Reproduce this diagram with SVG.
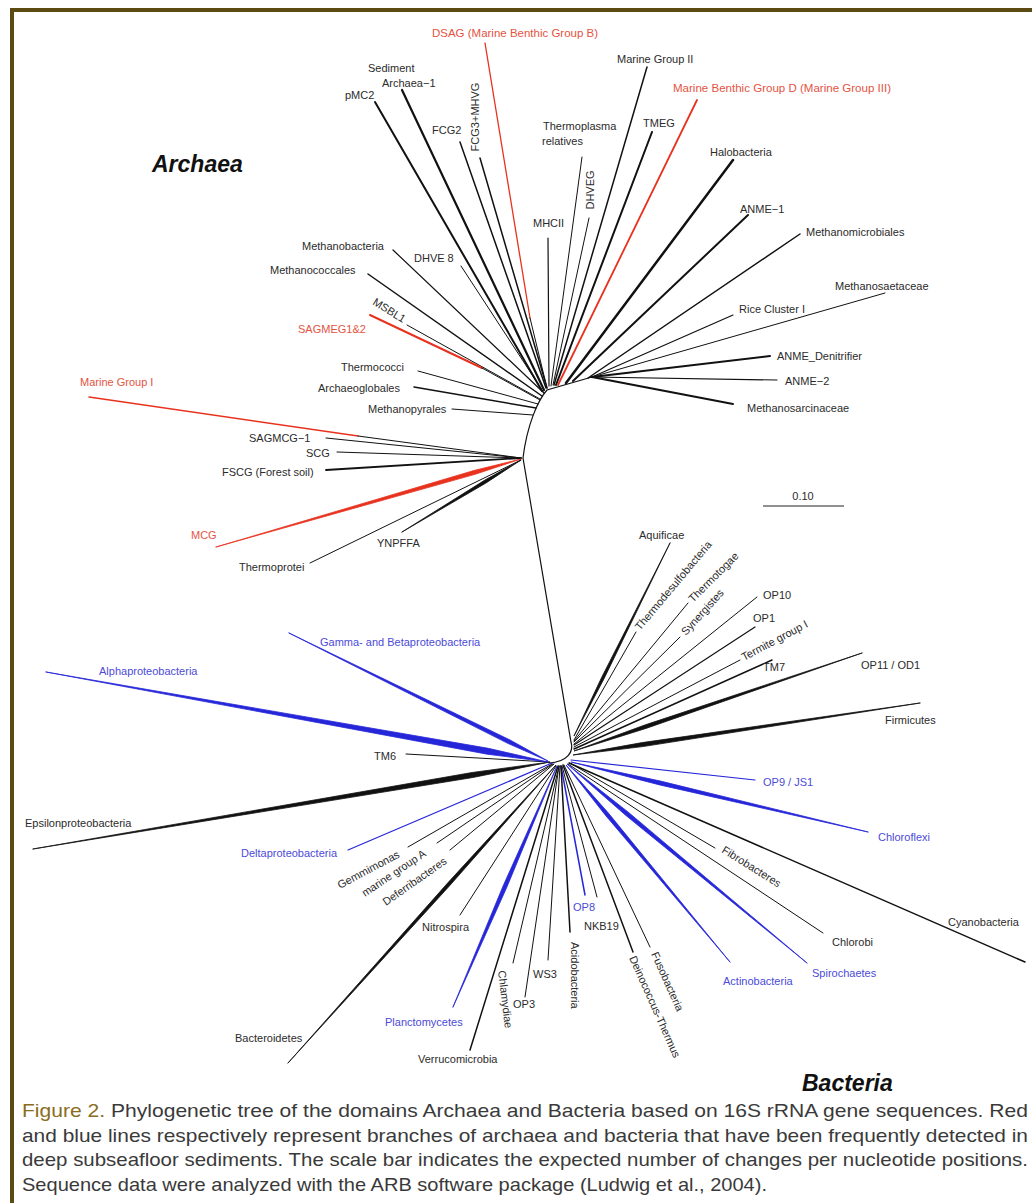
<svg xmlns="http://www.w3.org/2000/svg" width="1032" height="1203" viewBox="0 0 1032 1203">
<style>
.t{font-family:"Liberation Sans",Arial,sans-serif;font-size:11px;fill:#2b2b2b}
.r{fill:#e5533f}
.bl{fill:#4b4bd8}
.dom{font-family:"Liberation Sans",Arial,sans-serif;font-weight:bold;font-style:italic;font-size:23px;fill:#111}
.cap{font-family:"Liberation Sans",Arial,sans-serif;font-size:19px;fill:#3a3a3a}
.fig{fill:#8a6d1c}
.k{stroke:#111;fill:none}
.rk{stroke:#e8321e;fill:none}
.bk{stroke:#2626d9;fill:none}
.kw{fill:#111;stroke:#111;stroke-width:.8;stroke-linejoin:round}
.rw{fill:#e8321e;stroke:#e8321e;stroke-width:.8;stroke-linejoin:round}
.bw{fill:#2626d9;stroke:#2626d9;stroke-width:.8;stroke-linejoin:round}
</style>
<rect width="1032" height="1203" fill="#fff"/>
<g id="frame" stroke="#5b4a12" stroke-width="4" fill="none">
<line x1="12" y1="10" x2="1032" y2="10"/>
<line x1="12" y1="8" x2="12" y2="1203"/>
</g>
<g id="connectors" stroke-linecap="round">
<path class="k" stroke-width="1.2" d="M592,377 L547,390 C538,400 527,425 523,458 L571,742 C574,752 567,762 549,763"/>
<line class="rk" stroke-width="1.3" x1="485" y1="43" x2="530" y2="318"/>
<line class="k" stroke-width="1" x1="530" y1="318" x2="547" y2="388"/>
<line class="k" stroke-width="2.2" x1="402" y1="90" x2="544" y2="390"/>
<line class="k" stroke-width="2" x1="375" y1="102" x2="542" y2="391"/>
<line class="k" stroke-width="1.5" x1="460" y1="142" x2="546" y2="388"/>
<line class="k" stroke-width="1.5" x1="480" y1="158" x2="547" y2="388"/>
<line class="k" stroke-width="1.2" x1="548" y1="238" x2="549" y2="386"/>
<line class="k" stroke-width="1" x1="582" y1="157" x2="551" y2="386"/>
<line class="k" stroke-width="1" x1="589" y1="218" x2="553" y2="385"/>
<line class="k" stroke-width="1.5" x1="647" y1="67" x2="554" y2="385"/>
<line class="k" stroke-width="2" x1="652" y1="132" x2="556" y2="385"/>
<line class="rk" stroke-width="1.8" x1="697" y1="100" x2="558" y2="385"/>
<line class="k" stroke-width="2.5" x1="733" y1="160" x2="566" y2="383"/>
<line class="k" stroke-width="2" x1="748" y1="215" x2="573" y2="381"/>
<line class="k" stroke-width="1.5" x1="800" y1="234" x2="588" y2="378"/>
<line class="k" stroke-width="1" x1="885" y1="293" x2="592" y2="377"/>
<line class="k" stroke-width="1.2" x1="733" y1="315" x2="592" y2="377"/>
<line class="k" stroke-width="2" x1="770" y1="356" x2="592" y2="377"/>
<line class="k" stroke-width="1.2" x1="777" y1="380" x2="592" y2="377"/>
<line class="k" stroke-width="2" x1="733" y1="404" x2="592" y2="377"/>
<line class="k" stroke-width="1.2" x1="393" y1="250" x2="544" y2="393"/>
<line class="k" stroke-width="1" x1="461" y1="266" x2="544" y2="393"/>
<line class="k" stroke-width="1.5" x1="368" y1="274" x2="542" y2="396"/>
<line class="k" stroke-width="1" x1="407" y1="325" x2="540" y2="399"/>
<line class="rk" stroke-width="2" x1="370" y1="315" x2="482" y2="368"/>
<line class="k" stroke-width="1" x1="482" y1="368" x2="540" y2="400"/>
<line class="k" stroke-width="1" x1="418" y1="371" x2="538" y2="404"/>
<line class="k" stroke-width="1.5" x1="414" y1="387" x2="536" y2="408"/>
<line class="k" stroke-width="1" x1="452" y1="409" x2="533" y2="415"/>
<line class="rk" stroke-width="1.5" x1="89" y1="397" x2="358" y2="436"/>
<line class="k" stroke-width="1" x1="358" y1="436" x2="521" y2="458"/>
<line class="k" stroke-width="1" x1="326" y1="438" x2="521" y2="458"/>
<line class="k" stroke-width="1" x1="337" y1="452" x2="521" y2="458"/>
<line class="k" stroke-width="1.8" x1="326" y1="470" x2="521" y2="458"/>
<polygon class="rw" points="216,547 474.7,470.3 521,459 475.9,474.1"/>
<line class="k" stroke-width="1" x1="310" y1="563" x2="521" y2="460"/>
<polygon class="kw" points="402,532 484.5,480.3 521,460 486.1,482.9"/>
<polygon class="kw" points="670,543 601.6,677.5 574,736 604,678.7"/>
<line class="k" stroke-width="1" x1="636" y1="632" x2="574" y2="740"/>
<line class="k" stroke-width="1" x1="688" y1="603" x2="574" y2="741"/>
<line class="k" stroke-width="1" x1="680" y1="637" x2="574" y2="742"/>
<line class="k" stroke-width="1" x1="757" y1="597" x2="574" y2="744"/>
<line class="k" stroke-width="1.2" x1="755" y1="627" x2="574" y2="745"/>
<line class="k" stroke-width="1" x1="740" y1="660" x2="574" y2="747"/>
<line class="k" stroke-width="1.5" x1="772" y1="660" x2="574" y2="749"/>
<polygon class="kw" points="862,653 645.4,724.8 574,751 646.6,728.2"/>
<polygon class="kw" points="920,703 642.1,742.6 573,755 642.7,746.6"/>
<line class="bk" stroke-width="1.2" x1="755" y1="780" x2="571" y2="760"/>
<polygon class="bw" points="868,832 660.6,781.1 571,762 659.6,784.9"/>
<line class="k" stroke-width="1" x1="715" y1="848" x2="570" y2="763"/>
<line class="k" stroke-width="1.5" x1="1025" y1="962" x2="569" y2="763"/>
<line class="k" stroke-width="1" x1="823" y1="933" x2="568" y2="764"/>
<polygon class="bw" points="807,963 628.3,812.2 567,764 625.7,815.3"/>
<polygon class="bw" points="730,962 608.4,813.1 566,765 605.6,815.4"/>
<line class="k" stroke-width="1" x1="650" y1="947" x2="564" y2="765"/>
<line class="k" stroke-width="1.5" x1="633" y1="952" x2="563" y2="765"/>
<line class="k" stroke-width="1" x1="597" y1="897" x2="562" y2="766"/>
<line class="bk" stroke-width="1.5" x1="585" y1="895" x2="561" y2="766"/>
<line class="k" stroke-width="1.5" x1="570" y1="932" x2="561" y2="766"/>
<line class="k" stroke-width="1" x1="548" y1="960" x2="560" y2="766"/>
<line class="k" stroke-width="1" x1="525" y1="997" x2="559" y2="766"/>
<line class="k" stroke-width="1" x1="513" y1="963" x2="559" y2="766"/>
<line class="k" stroke-width="1.5" x1="470" y1="1050" x2="558" y2="766"/>
<polygon class="bw" points="453,1007 503.2,885.7 557,766 506.8,887.3"/>
<line class="k" stroke-width="1" x1="460" y1="915" x2="556" y2="766"/>
<polygon class="kw" points="288,1063 447.6,883.1 556,765 450,885.3"/>
<line class="k" stroke-width="1" x1="450" y1="850" x2="554" y2="764"/>
<line class="k" stroke-width="1" x1="437" y1="843" x2="553" y2="764"/>
<line class="k" stroke-width="1" x1="408" y1="847" x2="552" y2="764"/>
<line class="bk" stroke-width="1.2" x1="348" y1="850" x2="552" y2="763"/>
<polygon class="kw" points="33,849 472.1,772.5 550,762 472.9,777.5"/>
<line class="k" stroke-width="1" x1="406" y1="754" x2="549" y2="762"/>
<polygon class="bw" points="46,672 488.3,748.3 548,762 487.3,754.2"/>
<polygon class="bw" points="289,633 510.1,740 548,761 508.3,743.6"/>
</g>
<g id="scale-bar">
<line x1="763" y1="506" x2="844" y2="506" stroke="#222" stroke-width="1"/>
<text class="t" x="803" y="500" text-anchor="middle">0.10</text>
</g>
<g id="domain-archaea"><text class="dom" x="152" y="172">Archaea</text></g>
<g id="domain-bacteria"><text class="dom" x="802" y="1091">Bacteria</text></g>
<g id="n-dsag"><text class="t r" x="432" y="37" textLength="166" lengthAdjust="spacingAndGlyphs">DSAG (Marine Benthic Group B)</text></g>
<g id="n-sediment-archaea"><text class="t" x="368" y="72">Sediment</text><text class="t" x="382" y="87">Archaea−1</text></g>
<g id="n-pmc2"><text class="t" x="345" y="99">pMC2</text></g>
<g id="n-fcg3"><text class="t" transform="translate(479,117) rotate(-90)" text-anchor="middle">FCG3+MHVG</text></g>
<g id="n-fcg2"><text class="t" x="432" y="134">FCG2</text></g>
<g id="n-thermoplasma"><text class="t" x="543" y="130">Thermoplasma</text><text class="t" x="542" y="145">relatives</text></g>
<g id="n-mhcii"><text class="t" x="533" y="227">MHCII</text></g>
<g id="n-dhveg"><text class="t" transform="translate(594,190) rotate(-90)" text-anchor="middle">DHVEG</text></g>
<g id="n-mg2"><text class="t" x="617" y="63">Marine Group II</text></g>
<g id="n-tmeg"><text class="t" x="643" y="127">TMEG</text></g>
<g id="n-mbgd"><text class="t r" x="673" y="92" textLength="218" lengthAdjust="spacingAndGlyphs">Marine Benthic Group D (Marine Group III)</text></g>
<g id="n-halobacteria"><text class="t" x="710" y="156">Halobacteria</text></g>
<g id="n-anme1"><text class="t" x="740" y="213">ANME−1</text></g>
<g id="n-methanomicrobiales"><text class="t" x="806" y="236">Methanomicrobiales</text></g>
<g id="n-methanosaetaceae"><text class="t" x="835" y="290">Methanosaetaceae</text></g>
<g id="n-rice"><text class="t" x="739" y="313">Rice Cluster I</text></g>
<g id="n-anme-den"><text class="t" x="777" y="360">ANME_Denitrifier</text></g>
<g id="n-anme2"><text class="t" x="785" y="385">ANME−2</text></g>
<g id="n-methanosarcinaceae"><text class="t" x="747" y="412">Methanosarcinaceae</text></g>
<g id="n-methanobacteria"><text class="t" x="302" y="250">Methanobacteria</text></g>
<g id="n-dhve8"><text class="t" x="414" y="262">DHVE 8</text></g>
<g id="n-methanococcales"><text class="t" x="270" y="274">Methanococcales</text></g>
<g id="n-msbl1"><text class="t" transform="translate(372,304) rotate(32)">MSBL1</text></g>
<g id="n-sagmeg"><text class="t r" x="298" y="333">SAGMEG1&amp;2</text></g>
<g id="n-thermococci"><text class="t" x="341" y="371">Thermococci</text></g>
<g id="n-archaeoglobales"><text class="t" x="318" y="392">Archaeoglobales</text></g>
<g id="n-methanopyrales"><text class="t" x="368" y="413">Methanopyrales</text></g>
<g id="n-mg1"><text class="t r" x="80" y="386">Marine Group I</text></g>
<g id="n-sagmcg1"><text class="t" x="249" y="442">SAGMCG−1</text></g>
<g id="n-scg"><text class="t" x="306" y="457">SCG</text></g>
<g id="n-fscg"><text class="t" x="222" y="476">FSCG (Forest soil)</text></g>
<g id="n-mcg"><text class="t r" x="191" y="539">MCG</text></g>
<g id="n-thermoprotei"><text class="t" x="239" y="571">Thermoprotei</text></g>
<g id="n-ynpffa"><text class="t" x="377" y="547">YNPFFA</text></g>
<g id="n-aquificae"><text class="t" x="639" y="539">Aquificae</text></g>
<g id="n-thermodesulfobacteria"><text class="t" transform="translate(640,631) rotate(-50)">Thermodesulfobacteria</text></g>
<g id="n-thermotogae"><text class="t" transform="translate(693,603) rotate(-45)">Thermotogae</text></g>
<g id="n-synergistes"><text class="t" transform="translate(686,636) rotate(-48)">Synergistes</text></g>
<g id="n-op10"><text class="t" x="763" y="599">OP10</text></g>
<g id="n-op1"><text class="t" x="753" y="622">OP1</text></g>
<g id="n-termite"><text class="t" transform="translate(744,661) rotate(-28)">Termite group I</text></g>
<g id="n-tm7"><text class="t" x="763" y="671">TM7</text></g>
<g id="n-op11"><text class="t" x="861" y="669">OP11 / OD1</text></g>
<g id="n-firmicutes"><text class="t" x="885" y="724">Firmicutes</text></g>
<g id="n-op9"><text class="t bl" x="763" y="786">OP9 / JS1</text></g>
<g id="n-chloroflexi"><text class="t bl" x="878" y="841">Chloroflexi</text></g>
<g id="n-fibrobacteres"><text class="t" transform="translate(721,852) rotate(32)">Fibrobacteres</text></g>
<g id="n-cyanobacteria"><text class="t" x="948" y="926">Cyanobacteria</text></g>
<g id="n-chlorobi"><text class="t" x="832" y="946">Chlorobi</text></g>
<g id="n-spirochaetes"><text class="t bl" x="812" y="977">Spirochaetes</text></g>
<g id="n-actinobacteria"><text class="t bl" x="723" y="985">Actinobacteria</text></g>
<g id="n-fusobacteria"><text class="t" transform="translate(651,954) rotate(66)">Fusobacteria</text></g>
<g id="n-deinococcus"><text class="t" transform="translate(629,958) rotate(66)">Deinococcus-Thermus</text></g>
<g id="n-nkb19"><text class="t" x="584" y="930">NKB19</text></g>
<g id="n-op8"><text class="t bl" x="573" y="911">OP8</text></g>
<g id="n-acidobacteria"><text class="t" transform="translate(571,942) rotate(90)">Acidobacteria</text></g>
<g id="n-ws3"><text class="t" x="533" y="978">WS3</text></g>
<g id="n-op3"><text class="t" x="513" y="1008">OP3</text></g>
<g id="n-chlamydiae"><text class="t" transform="translate(498,971) rotate(83)">Chlamydiae</text></g>
<g id="n-verrucomicrobia"><text class="t" x="418" y="1063">Verrucomicrobia</text></g>
<g id="n-planctomycetes"><text class="t bl" x="385" y="1026">Planctomycetes</text></g>
<g id="n-nitrospira"><text class="t" x="422" y="931">Nitrospira</text></g>
<g id="n-bacteroidetes"><text class="t" x="235" y="1042">Bacteroidetes</text></g>
<g id="n-deltaproteobacteria"><text class="t bl" x="241" y="857">Deltaproteobacteria</text></g>
<g id="n-gemmimonas"><text class="t" transform="translate(340,889) rotate(-28)">Gemmimonas</text></g>
<g id="n-marine-group-a"><text class="t" transform="translate(365,897) rotate(-34)">marine group A</text></g>
<g id="n-deferribacteres"><text class="t" transform="translate(386,906) rotate(-35)">Deferribacteres</text></g>
<g id="n-epsilon"><text class="t" x="25" y="827">Epsilonproteobacteria</text></g>
<g id="n-tm6"><text class="t" x="374" y="760">TM6</text></g>
<g id="n-alpha"><text class="t bl" x="99" y="675">Alphaproteobacteria</text></g>
<g id="n-gamma"><text class="t bl" x="320" y="646">Gamma- and Betaproteobacteria</text></g>
<g id="caption">
<text class="cap" x="22" y="1117" textLength="1006" lengthAdjust="spacingAndGlyphs"><tspan class="fig">Figure 2.</tspan> Phylogenetic tree of the domains Archaea and Bacteria based on 16S rRNA gene sequences. Red</text>
<text class="cap" x="22" y="1142" textLength="1006" lengthAdjust="spacingAndGlyphs">and blue lines respectively represent branches of archaea and bacteria that have been frequently detected in</text>
<text class="cap" x="22" y="1166" textLength="1006" lengthAdjust="spacingAndGlyphs">deep subseafloor sediments. The scale bar indicates the expected number of changes per nucleotide positions.</text>
<text class="cap" x="22" y="1191" textLength="745" lengthAdjust="spacingAndGlyphs">Sequence data were analyzed with the ARB software package (Ludwig et al., 2004).</text>
</g>
</svg>
